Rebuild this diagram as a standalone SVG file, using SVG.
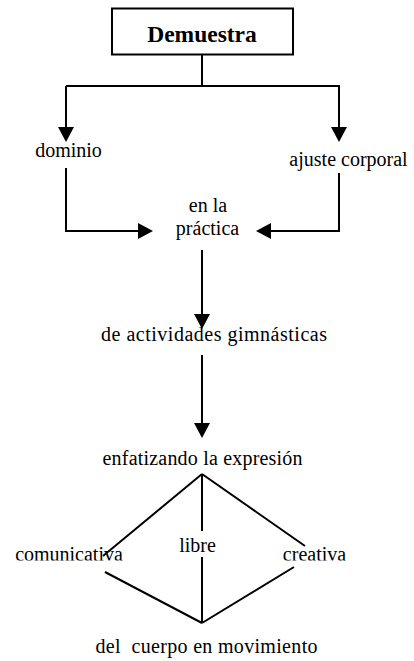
<svg xmlns="http://www.w3.org/2000/svg" width="414" height="661" viewBox="0 0 414 661">
<style>
.t{font-family:'Liberation Serif','Times New Roman',serif;font-size:20px;fill:#000;text-anchor:middle}
.b{font-weight:bold;font-size:23.5px}
.ln{stroke:#000;stroke-width:2;fill:none}
</style>
<defs>
<marker id="ah" viewBox="0 0 15 16" refX="0" refY="8" markerWidth="15" markerHeight="16" markerUnits="userSpaceOnUse" orient="auto">
<path d="M0,0 L15,8 L0,16 Z" fill="#000"/>
</marker>
<clipPath id="cut"><rect x="0" y="530" width="414" height="30.5"/></clipPath>
</defs>
<rect width="414" height="661" fill="#fff"/>
<g id="connectors" class="ln">
<line x1="202" y1="55" x2="202" y2="86"/>
<polyline points="66,86 339,86 339,127" marker-end="url(#ah)"/>
<line x1="66" y1="86" x2="66" y2="127" marker-end="url(#ah)"/>
<polyline points="66,168 66,231 138,231" marker-end="url(#ah)"/>
<polyline points="339,173 339,231 271,231" marker-end="url(#ah)"/>
<line x1="202" y1="250" x2="202" y2="314" marker-end="url(#ah)"/>
<line x1="202" y1="355" x2="202" y2="423" marker-end="url(#ah)"/>
<line x1="202" y1="474" x2="103" y2="556"/>
<line x1="202" y1="474" x2="202" y2="531"/>
<line x1="202" y1="474" x2="305" y2="546"/>
<line x1="105" y1="572" x2="202" y2="623"/>
<line x1="202" y1="557" x2="202" y2="623"/>
<line x1="294" y1="567" x2="202" y2="623"/>
</g>
<g id="n-demuestra">
<rect x="112" y="8.5" width="181" height="46" fill="#fff" stroke="#000" stroke-width="2"/>
<text class="t b" x="202" y="42">Demuestra</text>
</g>
<g id="n-dominio"><text class="t" x="68.5" y="157">dominio</text></g>
<g id="n-ajuste"><text class="t" x="348.5" y="166">ajuste corporal</text></g>
<g id="n-practica"><text class="t" x="208" y="212">en la</text><text class="t" x="207.5" y="235">práctica</text></g>
<g id="n-actividades"><text class="t" x="214" y="341" textLength="226" lengthAdjust="spacing">de actividades gimnásticas</text></g>
<g id="n-enfatizando"><text class="t" x="202.5" y="465" textLength="200" lengthAdjust="spacing">enfatizando la expresión</text></g>
<g id="n-comunicativa"><text class="t" x="69" y="561" clip-path="url(#cut)">comunicativa</text></g>
<g id="n-libre"><text class="t" x="197.5" y="552">libre</text></g>
<g id="n-creativa"><text class="t" x="314.5" y="561" clip-path="url(#cut)">creativa</text></g>
<g id="n-cuerpo"><text class="t" x="206.5" y="653" xml:space="preserve" textLength="222" lengthAdjust="spacing">del  cuerpo en movimiento</text></g>
</svg>
